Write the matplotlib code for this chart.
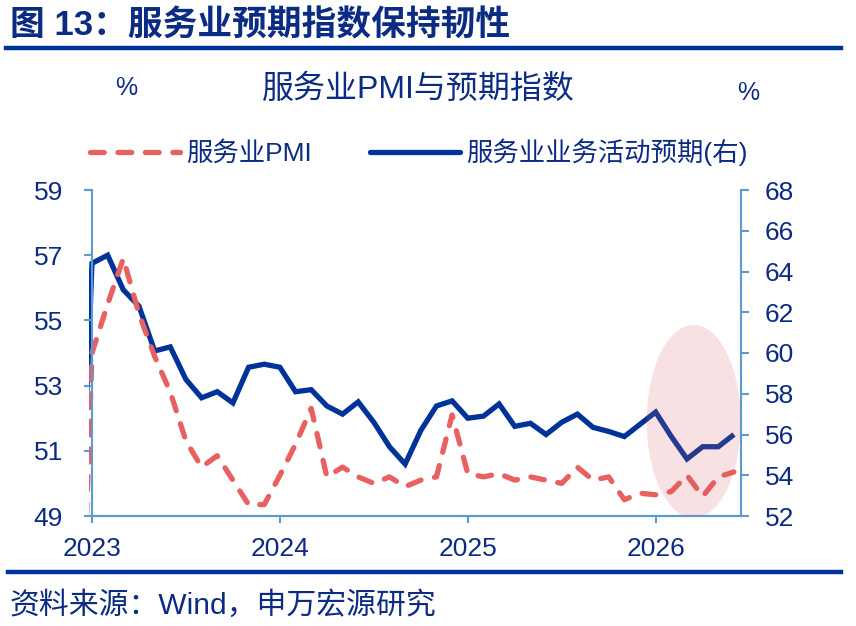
import numpy as np
import matplotlib
matplotlib.use("Agg")
import matplotlib.pyplot as plt
from matplotlib.lines import Line2D
from matplotlib.patches import Ellipse, Rectangle

plt.rcParams['font.family'] = ['Liberation Sans', 'Noto Sans CJK SC', 'DejaVu Sans']

# ---- data (monthly, Dec 2022 .. Jun 2026) ----
months = np.arange(-1, 42)  # month index, 0 = Jan 2023
pmi = [39.4,
       54.0, 55.5, 56.9, 55.2, 53.9, 52.8, 51.3, 50.5, 50.85, 50.1, 49.35, 49.35,
       50.25, 51.2, 52.3, 50.2, 50.5, 50.2, 50.0, 50.2, 49.9, 50.1, 50.2, 52.1,
       50.3, 50.2, 50.3, 50.1, 50.2, 50.1, 50.0, 50.5, 50.1, 50.2, 49.5, 49.7,
       49.65, 49.75, 50.25, 49.6, 50.2, 50.35]
expect = [45.0,
          64.4, 64.8, 63.1, 62.3, 60.1, 60.3, 58.7, 57.8, 58.1, 57.55, 59.3, 59.45,
          59.3, 58.1, 58.2, 57.4, 57.0, 57.6, 56.6, 55.4, 54.55, 56.2, 57.4, 57.65,
          56.8, 56.9, 57.5, 56.4, 56.55, 56.0, 56.6, 57.0, 56.35, 56.15, 55.9, 56.5,
          57.1, 55.9, 54.8, 55.4, 55.4, 56.0]
year_ticks = [0, 12, 24, 36]
year_labels = ['2023', '2024', '2025', '2026']
left_ticks = [49, 51, 53, 55, 57, 59]
right_ticks = [52, 54, 56, 58, 60, 62, 64, 66, 68]

RED = '#E8605F'
BLUE = '#003399'
TXT = '#0C2C84'
AXC = '#5B9BD5'

W, H = 856, 626
fig = plt.figure(figsize=(W / 100, H / 100), dpi=100)

ax = fig.add_axes([92 / W, 1 - 516 / H, (741 - 92) / W, (516 - 190) / H])
ax2 = ax.twinx()
ax.set_zorder(ax2.get_zorder() + 1)
ax.patch.set_visible(False)

clip1 = Rectangle((-0.005, 0), 1.01, 1, transform=ax.transAxes)
clip2 = Rectangle((-0.005, 0), 1.01, 1, transform=ax2.transAxes)

l2, = ax2.plot(months, expect, color=BLUE, lw=3.8, solid_joinstyle='miter',
               solid_capstyle='butt')
l2.set_clip_path(clip2)
l1, = ax.plot(months, pmi, color=RED, lw=3.8, dashes=(2.6, 2.6),
              dash_capstyle='round', dash_joinstyle='round')
l1.set_clip_path(clip1)

ell = Ellipse((38.43, 51.9), 6.0, 5.92, facecolor=(216 / 255, 94 / 255, 105 / 255),
              alpha=0.18, edgecolor='none', zorder=5)
ax.add_patch(ell)

ax.set_xlim(0, 41.45)
ax.set_ylim(49, 59)
ax2.set_ylim(52, 68)
ax.set_yticks(left_ticks)
ax2.set_yticks(right_ticks)
ax.set_xticks(year_ticks)
ax.set_xticklabels(year_labels)

for a in (ax, ax2):
    for s in a.spines.values():
        s.set_color(AXC)
        s.set_linewidth(1.5)
    a.spines['top'].set_visible(False)
    a.tick_params(colors=AXC, labelcolor=TXT, labelsize=19, length=6, width=1.5)
ax.spines['right'].set_visible(False)
ax2.spines['left'].set_visible(False)
ax.tick_params(axis='y', pad=15)
ax2.tick_params(axis='y', pad=11)
ax.tick_params(axis='x', pad=10, length=5)

# titles and labels
fig.text(10 / W, 1 - 26 / H, '图 13：服务业预期指数保持韧性', fontsize=25,
         fontweight='bold', color=TXT, va='center', ha='left')
fig.add_artist(Line2D([6 / W, 841 / W], [1 - 48 / H] * 2, lw=3.2, color=BLUE))
fig.text(418 / W, 1 - 90 / H, '服务业PMI与预期指数', fontsize=23, color=TXT,
         va='center', ha='center')
fig.text(126 / W, 1 - 88 / H, '%', fontsize=18, color=TXT, va='center', ha='center')
fig.text(748 / W, 1 - 93 / H, '%', fontsize=18, color=TXT, va='center', ha='center')

handles = [Line2D([], [], color=RED, lw=3.8, dashes=(2.6, 2.6), dash_capstyle='round'),
           Line2D([], [], color=BLUE, lw=3.8, solid_capstyle='round')]
fig.legend(handles, ['服务业PMI', '服务业业务活动预期(右)'], loc='center left',
           bbox_to_anchor=(90 / W, 1 - 152 / H), ncol=2, frameon=False,
           fontsize=19, handlelength=3.4, handletextpad=0.25, columnspacing=2.2,
           borderpad=0, borderaxespad=0, labelcolor=TXT)

fig.add_artist(Line2D([8 / W, 841 / W], [1 - 572 / H] * 2, lw=3.2, color=BLUE))
fig.text(10 / W, 1 - 605 / H, '资料来源：Wind，申万宏源研究', fontsize=21.5, color=TXT,
         va='center', ha='left')

fig.savefig('out.png', dpi=100)
